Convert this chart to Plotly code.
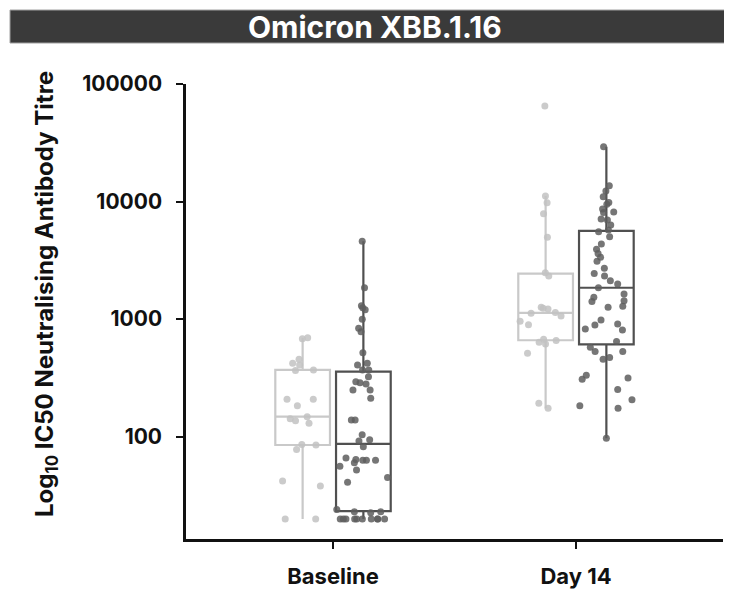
import numpy as np
import plotly.graph_objects as go

categories = ["Baseline", "Day 14"]

# Light grey group
light_baseline = [696, 680, 456, 422, 408, 370, 365, 208, 208, 183, 148, 142, 137, 130,
                  86, 85, 78, 42, 38, 20, 20]
light_day14 = [65000, 11160, 9790, 7890, 4970, 2480, 2330, 1260, 1240, 1220, 1137, 1122,
               1065, 960, 898, 675, 657, 637, 615, 513, 193, 175]

# Dark grey group
dark_baseline = [4600, 1850, 1300, 1250, 1200, 1000, 837, 783, 519, 422, 408, 370, 370,
                 324, 294, 288, 281, 250, 250, 212, 139, 139, 104, 94, 92, 82, 66, 64,
                 63, 63, 63, 60, 56, 52, 45, 41, 24, 23, 23, 22.6,
                 20, 20, 20, 20, 20, 20, 20, 20, 20, 20]
dark_day14 = [29300, 13600, 12300, 11000, 9800, 9480, 8650, 8170, 8060, 7110, 6980, 6320,
              5740, 5550, 5030, 4360, 3930, 3610, 3360, 3100, 2710, 2450, 2330, 2120,
              1990, 1850, 1640, 1535, 1436, 1410, 1288, 1262, 984, 910, 893, 826, 809,
              644, 577, 530, 530, 471, 456, 333, 316, 308, 252, 206, 183, 175, 97]

y_tick_vals = [100, 1000, 10000, 100000]
y_tick_text = ["100", "1000", "10000", "100000"]

title_text = "Omicron XBB.1.16"
y_title = "Log<sub>10</sub> IC50 Neutralising Antibody Titre"

FONT = "Inter, Arial, sans-serif"

# page body has an 8px margin: figure occupies (8,8)..(732,591)
OFF = 8
PL, PT = 186 - OFF, 84 - OFF   # plot-area top-left in figure px
PW, PH = 537, 455


def px_x(x):  # page x -> paper x
    return (x - OFF - PL) / PW


def px_y(y):  # page y -> paper y
    return (PT + PH - (y - OFF)) / PH


def box_stats(vals):
    lv = np.log10(np.asarray(vals, dtype=float))
    q1, med, q3 = np.percentile(lv, [25, 50, 75])
    iqr = q3 - q1
    lo = lv[lv >= q1 - 1.5 * iqr].min()
    hi = lv[lv <= q3 + 1.5 * iqr].max()
    return [10 ** q1, 10 ** med, 10 ** q3, 10 ** lo, 10 ** hi]


groups = [
    ("A", light_baseline, light_day14, "#c9c9c9", "#c2c2c2"),
    ("B", dark_baseline, dark_day14, "#505050", "#5e5e5e"),
]

fig = go.Figure()
for gid, base, d14, line_col, pt_col in groups:
    sb = box_stats(base)
    sd = box_stats(d14)
    fig.add_trace(go.Box(
        x=categories,
        q1=[sb[0], sd[0]], median=[sb[1], sd[1]], q3=[sb[2], sd[2]],
        lowerfence=[sb[3], sd[3]], upperfence=[sb[4], sd[4]],
        offsetgroup=gid, boxpoints=False, whiskerwidth=0,
        fillcolor="rgba(255,255,255,0)",
        line=dict(color=line_col, width=2.2),
        showlegend=False, hoverinfo="skip",
    ))
for gid, base, d14, line_col, pt_col in groups:
    fig.add_trace(go.Box(
        x=[categories[0]] * len(base) + [categories[1]] * len(d14),
        y=list(base) + list(d14),
        offsetgroup=gid, boxpoints="all", jitter=1.0, pointpos=0,
        fillcolor="rgba(0,0,0,0)",
        line=dict(color="rgba(0,0,0,0)", width=0),
        marker=dict(color=pt_col, size=7, opacity=0.85),
        showlegend=False,
    ))

fig.update_layout(
    width=732 - OFF, height=591 - OFF,
    margin=dict(l=PL, r=732 - OFF - PL - PW, t=PT, b=591 - OFF - PT - PH, autoexpand=False),
    paper_bgcolor="white", plot_bgcolor="white",
    boxmode="group", boxgap=0.5, boxgroupgap=0.1,
    showlegend=False,
    font=dict(family=FONT, color="#111111"),
)
fig.update_xaxes(
    type="category", range=[-0.605, 1.605], automargin=False,
    showline=True, linecolor="#111111", linewidth=2.5,
    ticks="outside", ticklen=7, tickwidth=2, tickcolor="#111111",
    tickfont=dict(size=22, family=FONT, weight="bold", color="#111111"),
    ticklabelstandoff=9, showgrid=False, zeroline=False,
)
fig.update_yaxes(
    type="log", range=[1.13, 5.0], automargin=False,
    tickvals=y_tick_vals, ticktext=y_tick_text,
    showline=True, linecolor="#111111", linewidth=2.5,
    ticks="outside", ticklen=7, tickwidth=2, tickcolor="#111111",
    tickfont=dict(size=21, family=FONT, weight="bold", color="#111111"),
    ticklabelstandoff=10, showgrid=False, zeroline=False,
)

# Title bar
fig.add_shape(type="rect", xref="paper", yref="paper",
              x0=px_x(10), x1=px_x(731.5),
              y0=px_y(43), y1=px_y(10),
              fillcolor="#3a3a3a", line=dict(color="#a0a0a0", width=1), layer="below")
fig.add_annotation(text=title_text, xref="paper", yref="paper",
                   x=px_x(375), y=px_y(27),
                   xanchor="center", yanchor="middle", showarrow=False,
                   font=dict(size=30, color="white", family=FONT, weight="bold"))
# Y-axis title
fig.add_annotation(text=y_title, xref="paper", yref="paper",
                   x=px_x(46), y=px_y(294),
                   xanchor="center", yanchor="middle", textangle=-90, showarrow=False,
                   font=dict(size=24, color="#111111", family=FONT, weight="bold"))

fig.write_html("out.html")
